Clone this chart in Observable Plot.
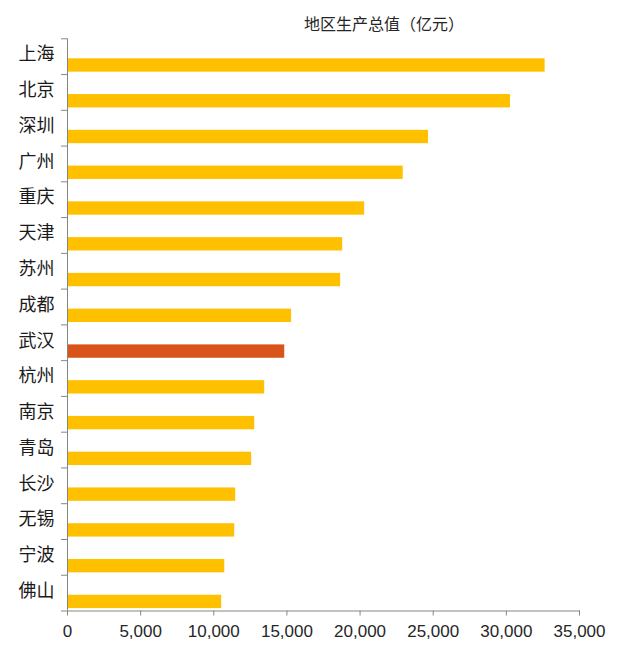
<!DOCTYPE html>
<html>
<head>
<meta charset="utf-8">
<script src="https://cdn.jsdelivr.net/npm/d3@7"></script>
<script src="https://cdn.jsdelivr.net/npm/@observablehq/plot@0.6"></script>
<style>
  body { margin: 0; background: #fff; }
  #wrap { position: relative; width: 638px; height: 656px; }
  #title { position: absolute; left: 0; width: 768px; top: 11px; text-align: center;
    font-family: "Noto Sans CJK SC", sans-serif; font-size: 16px; color: #262626; }
  #chart { position: absolute; left: 0; top: 38px; }
</style>
</head>
<body>
<div id="wrap">
  <div id="title">地区生产总值（亿元）</div>
  <div id="chart"></div>
</div>
<script>
const titleText = "地区生产总值（亿元）";
const cities = ["上海","北京","深圳","广州","重庆","天津","苏州","成都","武汉","杭州","南京","青岛","长沙","无锡","宁波","佛山"];
const gdp = [32650, 30280, 24680, 22950, 20310, 18810, 18670, 15320, 14850, 13480, 12800, 12590, 11500, 11430, 10750, 10540];
const highlightCity = "武汉";
const xTicks = [0, 5000, 10000, 15000, 20000, 25000, 30000, 35000];

const data = cities.map((c, i) => ({city: c, value: gdp[i]}));
const plotHeight = 618, marginBottom = 45.5;
const band = (plotHeight - marginBottom) / cities.length;
const axisColor = "#868686";

const chart = Plot.plot({
  width: 638,
  height: plotHeight,
  marginTop: 0.3,
  marginBottom,
  marginLeft: 67,
  marginRight: 59,
  style: {fontFamily: "'Liberation Sans', sans-serif", color: "#262626", background: "#fff"},
  x: {domain: [0, 35000], axis: null},
  y: {domain: cities, padding: 0, round: false, axis: null},
  color: {type: "identity"},
  marks: [
    Plot.barX(data, {
      y: "city", x: "value",
      fill: d => d.city === highlightCity ? "#D9541A" : "#FFC000",
      insetTop: 20, insetBottom: 2.4
    }),
    Plot.ruleX([0], {stroke: axisColor}),
    Plot.frame({anchor: "bottom", stroke: axisColor}),
    Plot.axisX({
      ticks: xTicks, tickFormat: d3.format(","), tickSize: 5, tickPadding: 8.6,
      stroke: axisColor, fontSize: 17, label: null, fill: "#262626"
    }),
    Plot.axisY({
      tickSize: 0, tickPadding: 13, fontSize: 18, label: null,
      fontFamily: "'Noto Sans CJK SC', sans-serif", fill: "#1a1a1a", dy: -2
    }),
    Plot.axisY({
      tickSize: 6, tickFormat: () => "", label: null, stroke: axisColor, dy: -band / 2
    }),
    Plot.axisY({
      ticks: [cities[cities.length - 1]], tickSize: 6, tickFormat: () => "", label: null,
      stroke: axisColor, dy: band / 2
    })
  ]
});
document.getElementById("chart").appendChild(chart);
</script>
</body>
</html>
